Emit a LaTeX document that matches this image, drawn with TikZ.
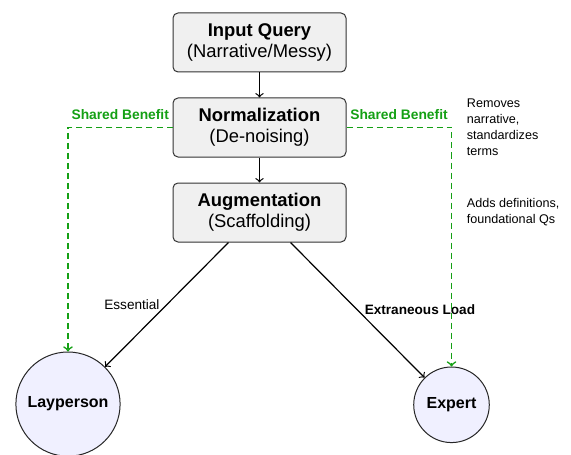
\documentclass[tikz,border=0pt]{standalone}
\usepackage{fontspec}
\setmainfont{Liberation Sans}
\usetikzlibrary{arrows, positioning}
\definecolor{benefit}{RGB}{20,160,20}

\begin{document}
\begin{tikzpicture}[>=to,node distance=12.5pt,
  every node/.style={font=\fontsize{9.2}{10.5}\selectfont},
  stage/.style={draw=black!80,rounded corners=2.5pt,align=center,
    minimum height=29.5pt,minimum width=86.5pt,fill=black!6,line width=.5pt},
  person/.style={draw=black!85,circle,inner sep=4.6pt,fill=blue!6,line width=.5pt,
    font=\fontsize{8}{9.6}\selectfont\bfseries},
  note/.style={align=left,inner sep=0pt,font=\fontsize{6.3}{8}\selectfont},
  shared/.style={dash pattern=on 3pt off 2pt,draw=benefit,line width=.8pt},
  sharedlbl/.style={above,text=benefit,font=\fontsize{6.9}{8}\selectfont\bfseries},
  load/.style={line width=.6pt}]
 \useasboundingbox (-129.75pt,21.25pt) rectangle (155.75pt,-205.75pt);
 \node[stage] (query) at (0,0) {\textbf{Input Query}\\(Narrative/Messy)};
 \node[stage,below=of query] (norm) {\textbf{Normalization}\\(De-noising)};
 \node[stage,below=of norm] (aug) {\textbf{Augmentation}\\(Scaffolding)};
 \node[note,right=60pt of norm] (normnote) {Removes\\narrative,\\standardizes\\terms};
 \node[note,right=60pt of aug] (augnote) {Adds definitions,\\foundational Qs};
 \node[person,below=54.5pt of aug,xshift=-95.75pt] (lay) {Layperson};
 \node[person,below=62pt of aug,xshift=96pt] (expert) {Expert};
 \draw[->,load] (query)--(norm);
 \draw[->,load] (norm)--(aug);
 \draw[->,load] ([xshift=-15.5pt]aug.south) -- node[left,font=\fontsize{6.8}{8}\selectfont]{Essential} (lay);
 \draw[->,load] ([xshift=15.5pt]aug.south) -- node[right,font=\fontsize{6.8}{8}\selectfont\bfseries]{Extraneous Load} (expert);
 \draw[->,shared] (norm.west) -- node[sharedlbl]{Shared Benefit} (norm.west -| lay.north) -- (lay.north);
 \draw[->,shared] (norm.east) -- node[sharedlbl]{Shared Benefit} (norm.east -| expert.north) -- (expert.north);
\end{tikzpicture}
\end{document}
